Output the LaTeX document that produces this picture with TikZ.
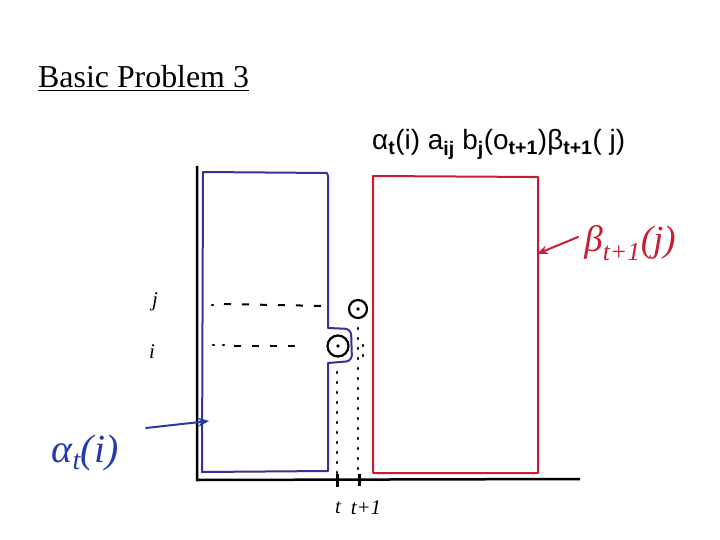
\documentclass[tikz,border=0pt]{standalone}
\usepackage{fontspec}
\setmainfont{Liberation Serif}
\setsansfont{Liberation Sans}
\usetikzlibrary{arrows.meta}
\definecolor{penblue}{RGB}{55,50,150}
\definecolor{inkblue}{RGB}{35,60,170}
\definecolor{penred}{RGB}{200,30,50}
\tikzset{
  pen/.style={line width=2bp, line join=round, line cap=round},
  dots/.style={line width=2.6bp, line cap=round, dash pattern=on 1bp off 9bp},
  dashes/.style={line width=2bp, dash pattern=on 7bp off 11bp},
  ring/.style={circle, draw, line width=2.2bp, inner sep=0pt, minimum size=18bp},
}
\newcommand{\sub}[1]{\textsubscript{\bfseries #1}}

\begin{document}
\begin{tikzpicture}[x=1bp,y=-1bp]
  \useasboundingbox[fill=white] (0,0) rectangle (720,540);
  % title
  \node[anchor=base west, inner sep=0pt, font=\fontsize{32}{38}\selectfont] (title) at (38,88) {\underline{Basic Problem 3}};
  \node[anchor=base west, inner sep=0pt, font=\sffamily\fontsize{28}{34}\selectfont] (formula) at (372,150)
    {α\sub{t}(i) a\sub{ij} b\sub{j}(o\sub{t+1})β\sub{t+1}( j)};

  % axes
  \draw[line width=2.5bp] (197,166) -- (197,480) -- (580,479);
  \draw[line width=3bp] (337,474) -- (337,487);
  \draw[line width=3bp] (359,474) -- (359,486);

  % alpha box with notch
  \draw[pen, penblue] (328,176) -- (327,173) -- (203,172) -- (202,472) -- (328,471) -- (328,363)
    [rounded corners=6bp] -- (352,361) -- (351,329) [sharp corners] -- (328,328) -- (328,176);
  % beta box
  \draw[pen, penred] (373,176) -- (538,177) -- (538,473) -- (373,473) -- cycle;

  % dashed rows
  \draw[dots] (212,305) -- (214,305);
  \draw[dashes] (224,304) -- (326,306);
  \draw[dots] (213,345) -- (224,345);
  \draw[dashes] (234,346) -- (305,346);

  % states
  \node[ring] (oj) at (358,309) {};
  \node[ring, minimum size=21bp] (oi) at (338,346) {};
  \fill (oj.center) circle (1.8bp);
  \fill (oi.center) circle (1.8bp);

  % time lines
  \draw[dots] (337,372) -- (337,476);
  \draw[dots] (358,328) -- (358,476);
  \draw[dots] (363,345) -- (363,360);

  % labels
  \node[font=\itshape\fontsize{21}{24}\selectfont] (lj) at (155,302) {j};
  \node[font=\itshape\fontsize{21}{24}\selectfont] (li) at (152,352) {i};
  \node[font=\itshape\fontsize{21}{24}\selectfont] (lt) at (338,508) {t};
  \node[font=\itshape\fontsize{21}{24}\selectfont] (ltt) at (366,508) {t+1};

  \node[inkblue, font=\itshape\fontsize{40}{46}\selectfont] (alpha) at (85,453) {α\textsubscript{t}(i)};
  \coordinate (atail) at (146,428);
  \coordinate (ahead) at (209,421);
  \draw[pen, inkblue, -{Stealth[length=11bp,width=9bp]}] (atail) -- (ahead);

  \node[penred, font=\itshape\fontsize{37}{42}\selectfont] (beta) at (630,243) {β\textsubscript{t+1}(j)};
  \coordinate (btail) at (578,237);
  \coordinate (bhead) at (537,254);
  \draw[pen, penred, -{Stealth[length=11bp,width=9bp]}] (btail) -- (bhead);
\end{tikzpicture}
\end{document}
